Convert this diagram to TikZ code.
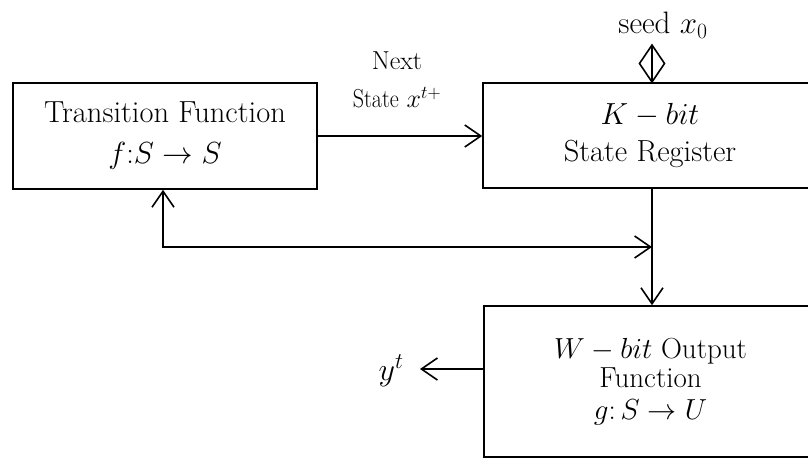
\RequirePackage{fix-cm}
\documentclass[tikz,border=0pt]{standalone}
\usetikzlibrary{arrows.meta}
\begin{document}
\begin{tikzpicture}[x=1pt,y=-1pt,
  line width=1.6pt,
  >={Straight Barb[length=16pt,width=22pt]},
  blk/.style={draw, rectangle, align=center, inner sep=0pt},
  txt/.style={font=\fontsize{31}{36}\selectfont}]
\useasboundingbox (0,0) rectangle (808,459);
\clip (0,0) rectangle (808,459);

% blocks
\node[blk, minimum width=304pt, minimum height=106pt,
      font=\fontsize{30.5}{41}\selectfont] (trans) at (165,136)
      {Transition Function\\ $f{:}S\to S$};
\node[blk, minimum width=334pt, minimum height=105pt,
      font=\fontsize{30.5}{37}\selectfont] (reg) at (650,135.5)
      {$K-bit$\\ State Register};
\node[blk, minimum width=333pt, minimum height=151pt,
      font=\fontsize{29}{29}\selectfont] (out) at (650.5,381.5)
      {$W-bit$ Output\\ Function\\[3pt] $g{:}\,S\to U$};

% labels
\node[txt] (seed) at (663,25) {seed $x_0$};
\node[font=\fontsize{26}{38}\selectfont, align=center] (nstate) at (397,80)
      {Next\\ \scalebox{0.85}[1]{State} $x^{t+}$};
\node[font=\fontsize{32}{36}\selectfont] (yt) at (391,371) {$y^t$};

% routing points
\coordinate (tap) at (652,247);
\coordinate (fb) at (163,247);
\coordinate (dtop) at (652,45);
\coordinate (ytip) at (420,369);

% connectors
\draw[->] (trans.east) -- (trans.east -| reg.west);
\draw[->] (reg.south -| tap) -- (out.north -| tap);
\draw[<->] (trans.south -| fb) |- (tap);
\draw[->] (out.west |- ytip) -- (ytip);

% seed input with diamond marker
\draw (dtop) -- (reg.north -| dtop);
\draw (dtop) -- ++(12.5,18.5) -- ++(-12.5,18.5) -- ++(-12.5,-18.5) -- cycle;
\end{tikzpicture}
\end{document}
